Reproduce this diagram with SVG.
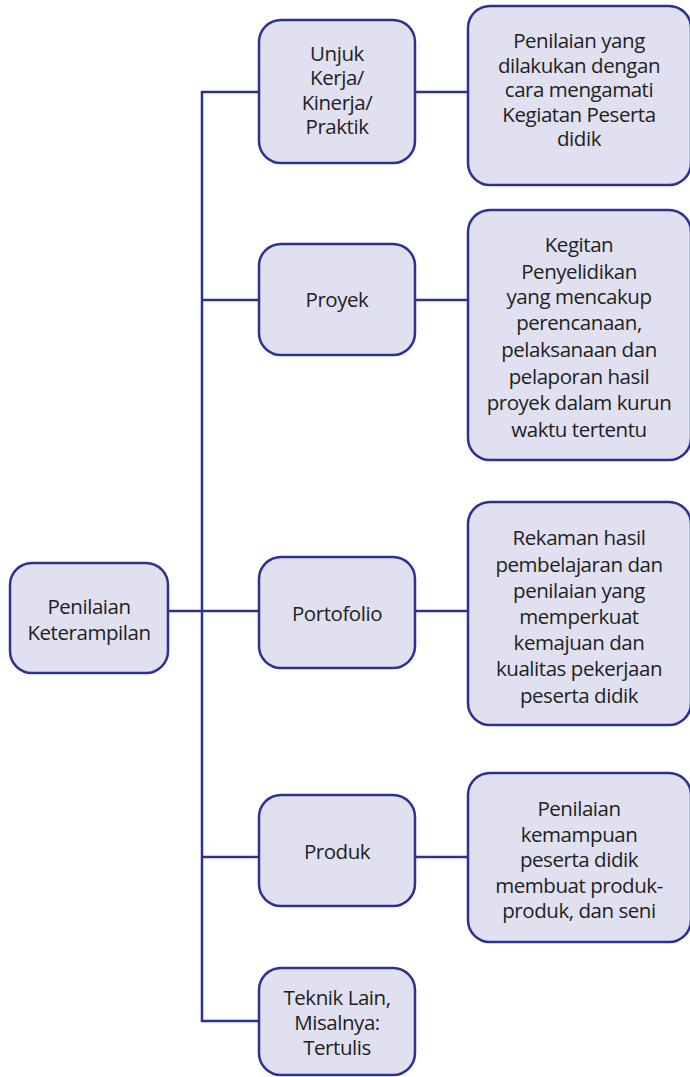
<svg xmlns="http://www.w3.org/2000/svg" width="690" height="1077" viewBox="0 0 690 1077">
<style>
.box{fill:#e0e0f0;stroke:#2e3192;stroke-width:2.5}
.ln{fill:none;stroke:#2e3192;stroke-width:2.5}
text{font-family:"Open Sans","Noto Sans",sans-serif;font-size:20.5px;letter-spacing:-0.45px;fill:#231f20;text-anchor:middle}
</style>
<rect x="0" y="0" width="690" height="1077" fill="#ffffff"/>
<g id="connectors">
<polyline class="ln" points="259,92 202,92 202,1021 259,1021"/>
<line class="ln" x1="168" y1="611" x2="259" y2="611"/>
<line class="ln" x1="202" y1="300" x2="259" y2="300"/>
<line class="ln" x1="202" y1="857" x2="259" y2="857"/>
<line class="ln" x1="415" y1="92" x2="468" y2="92"/>
<line class="ln" x1="415" y1="300" x2="468" y2="300"/>
<line class="ln" x1="415" y1="611" x2="468" y2="611"/>
<line class="ln" x1="415" y1="857" x2="468" y2="857"/>
</g>
<g id="root">
<rect class="box" x="10" y="563" width="158" height="110" rx="22"/>
<text x="89" y="614">Penilaian</text>
<text x="89" y="640">Keterampilan</text>
</g>
<g id="n-unjuk">
<rect class="box" x="259" y="20" width="156" height="143" rx="22"/>
<text x="337" y="61">Unjuk</text>
<text x="337" y="85">Kerja/</text>
<text x="337" y="110">Kinerja/</text>
<text x="337" y="134">Praktik</text>
</g>
<g id="n-proyek">
<rect class="box" x="259" y="244" width="156" height="111" rx="22"/>
<text x="337" y="307">Proyek</text>
</g>
<g id="n-portofolio">
<rect class="box" x="259" y="557" width="156" height="111" rx="22"/>
<text x="337" y="621">Portofolio</text>
</g>
<g id="n-produk">
<rect class="box" x="259" y="795" width="156" height="111" rx="22"/>
<text x="337" y="859">Produk</text>
</g>
<g id="n-teknik">
<rect class="box" x="259" y="968" width="156" height="107" rx="22"/>
<text x="337" y="1005">Teknik Lain,</text>
<text x="337" y="1030">Misalnya:</text>
<text x="337" y="1055">Tertulis</text>
</g>
<g id="d-unjuk">
<rect class="box" x="468" y="6" width="223" height="179" rx="22"/>
<text x="579" y="48">Penilaian yang</text>
<text x="579" y="72.5">dilakukan dengan</text>
<text x="579" y="97">cara mengamati</text>
<text x="579" y="121.5">Kegiatan Peserta</text>
<text x="579" y="146">didik</text>
</g>
<g id="d-proyek">
<rect class="box" x="468" y="210" width="223" height="250" rx="22"/>
<text x="579" y="252">Kegitan</text>
<text x="579" y="279">Penyelidikan</text>
<text x="579" y="304">yang mencakup</text>
<text x="579" y="330">perencanaan,</text>
<text x="579" y="357">pelaksanaan dan</text>
<text x="579" y="384">pelaporan hasil</text>
<text x="579" y="410">proyek dalam kurun</text>
<text x="579" y="437">waktu tertentu</text>
</g>
<g id="d-portofolio">
<rect class="box" x="468" y="502" width="223" height="223" rx="22"/>
<text x="579" y="545">Rekaman hasil</text>
<text x="579" y="572">pembelajaran dan</text>
<text x="579" y="598">penilaian yang</text>
<text x="579" y="624">memperkuat</text>
<text x="579" y="650">kemajuan dan</text>
<text x="579" y="676">kualitas pekerjaan</text>
<text x="579" y="703">peserta didik</text>
</g>
<g id="d-produk">
<rect class="box" x="468" y="773" width="223" height="169" rx="22"/>
<text x="579" y="816">Penilaian</text>
<text x="579" y="842">kemampuan</text>
<text x="579" y="867">peserta didik</text>
<text x="579" y="893">membuat produk-</text>
<text x="579" y="918">produk, dan seni</text>
</g>
</svg>
